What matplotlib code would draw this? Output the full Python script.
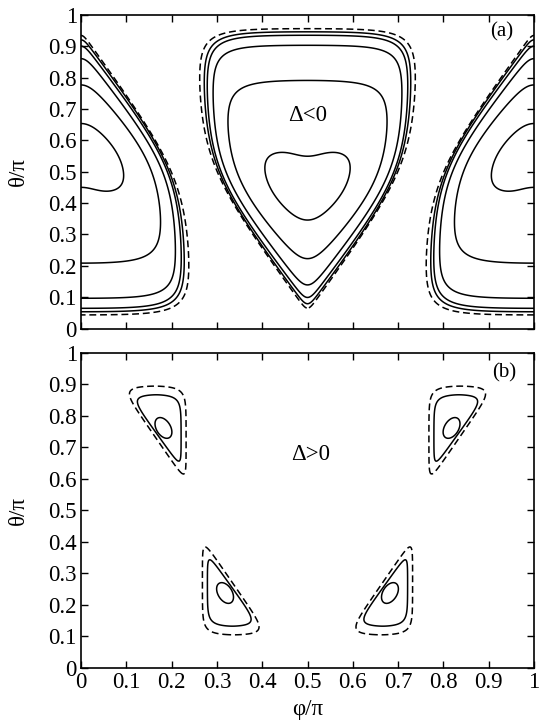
import numpy as np
import matplotlib
matplotlib.use("Agg")
import matplotlib.pyplot as plt

# ---------------- data ----------------
tick_values = [0, 0.1, 0.2, 0.3, 0.4, 0.5, 0.6, 0.7, 0.8, 0.9, 1]
tick_labels = ["0", "0.1", "0.2", "0.3", "0.4", "0.5", "0.6", "0.7", "0.8", "0.9", "1"]

# panel (a): contours of the island centred at phi/pi = 0.5 (inner -> separatrix)
a_top = [0.574, 0.793, 0.904, 0.936, 0.947, 0.957]        # theta/pi of flat top
a_halfwidth = [0.107, 0.183, 0.212, 0.225, 0.232, 0.243]  # half width in phi/pi
a_tip = [0.343, 0.220, 0.138, 0.098, 0.078, 0.064]        # theta/pi of lower tip
a_slope = [1.4, 1.6, 1.85, 1.9, 1.95, 2.0]                # flank slope
a_round = [0.030, 0.045, 0.042, 0.044, 0.045, 0.046]      # corner rounding
a_tipround = [0.035, 0.028, 0.018, 0.012, 0.010, 0.008]   # tip rounding
a_notch = [0.022, 0.0, 0.0, 0.0, 0.0, 0.0]                # dip of the top at centre
a_dashed = [False, False, False, False, False, True]
a_island_phi = [0.0, 0.5, 1.0]
a_island_flip = [True, False, True]

# panel (b): contours of the island near (0.32, 0.24) (outer solid, dashed)
b_left = [0.279, 0.268]
b_bottom = [0.131, 0.104]
b_flank_slope = [2.0, 2.08]
b_flank_c = [0.922, 0.966]
b_apex_round = [0.007, 0.008]
b_round = [0.020, 0.022]
b_dashed = [False, True]
# innermost small contour (ellipse)
b_inner_centre = (0.318, 0.238)
b_inner_axes = (0.034, 0.0165)
b_inner_dir = (0.29, -0.957)

# ---------------- fields ----------------
phi = np.linspace(0, 1, 900)
th = np.linspace(0, 1, 900)
P, T = np.meshgrid(phi, th)


def lse(terms, r):
    st = np.stack(terms)
    m = st.max(axis=0)
    return m + r * np.log(np.exp((st - m) / r).sum(axis=0))


def pick(u, v, i):
    m = a_slope[i]
    n = np.sqrt(1 + m * m)
    rt = a_tipround[i]
    b = a_tip[i] - n * rt * np.log(2)
    flank = lse([(b + m * u - v) / n, (b - m * u - v) / n], rt)
    top = v - a_top[i] + a_notch[i] * np.exp(-(u / 0.045) ** 2)
    return lse([top, u - a_halfwidth[i], -u - a_halfwidth[i], flank], a_round[i])


def field_a(i):
    return np.min([pick(P - c, (1 - T) if f else T, i)
                   for c, f in zip(a_island_phi, a_island_flip)], axis=0)


def tri(p, t, i):
    m = b_flank_slope[i]
    n = np.sqrt(1 + m * m)
    apex = lse([b_left[i] - p, (m * p + t - b_flank_c[i]) / n], b_apex_round[i])
    return lse([apex, b_bottom[i] - t], b_round[i])


def ell(p, t):
    pc, tc = b_inner_centre
    a, b = b_inner_axes
    dx, dy = b_inner_dir
    nn = np.hypot(dx, dy)
    dx, dy = dx / nn, dy / nn
    q1 = (p - pc) * dx + (t - tc) * dy
    q2 = -(p - pc) * dy + (t - tc) * dx
    return np.sqrt((q1 / a) ** 2 + (q2 / b) ** 2) - 1


def four(fun):
    return np.min([fun(P, T), fun(1 - P, T), fun(0.5 - P, 1 - T),
                   fun(P - 0.5, 1 - T)], axis=0)


# ---------------- figure ----------------
plt.rcParams['font.family'] = ['Liberation Serif', 'DejaVu Serif']
fig = plt.figure(figsize=(5.40, 7.23), dpi=100)
axa = fig.add_axes([0.150, 0.5456, 0.8389, 0.4336])
axb = fig.add_axes([0.150, 0.0761, 0.8389, 0.4357])

lw = 1.1
dash = [(0, (4.5, 2.5))]
for i in range(len(a_top)):
    axa.contour(P, T, field_a(i), levels=[0], colors='black', linewidths=lw,
                linestyles=dash if a_dashed[i] else 'solid')
for i in range(len(b_left)):
    axb.contour(P, T, four(lambda p, t: tri(p, t, i)), levels=[0],
                colors='black', linewidths=lw,
                linestyles=dash if b_dashed[i] else 'solid')
axb.contour(P, T, four(ell), levels=[0], colors='black', linewidths=lw)

for ax in (axa, axb):
    ax.set_xlim(0, 1)
    ax.set_ylim(0, 1)
    ax.set_xticks(tick_values)
    ax.set_yticks(tick_values)
    ax.set_yticklabels(tick_labels)
    ax.tick_params(direction='in', length=5, width=1, top=True, right=True,
                   labelsize=16.5, pad=3)
    ax.set_ylabel('θ/π', fontsize=16.5, labelpad=14)
    for s in ax.spines.values():
        s.set_linewidth(1.2)

axa.set_xticklabels([])
axb.set_xticklabels(tick_labels)
axb.set_xlabel('φ/π', fontsize=16.5, labelpad=4)

axa.text(0.5, 0.68, 'Δ<0', fontsize=16.5, ha='center', va='center')
axb.text(0.507, 0.679, 'Δ>0', fontsize=16.5, ha='center', va='center')
axa.text(0.928, 0.947, '(a)', fontsize=15, ha='center', va='center')
axb.text(0.934, 0.937, '(b)', fontsize=15, ha='center', va='center')

fig.savefig('out.png', dpi=100)
